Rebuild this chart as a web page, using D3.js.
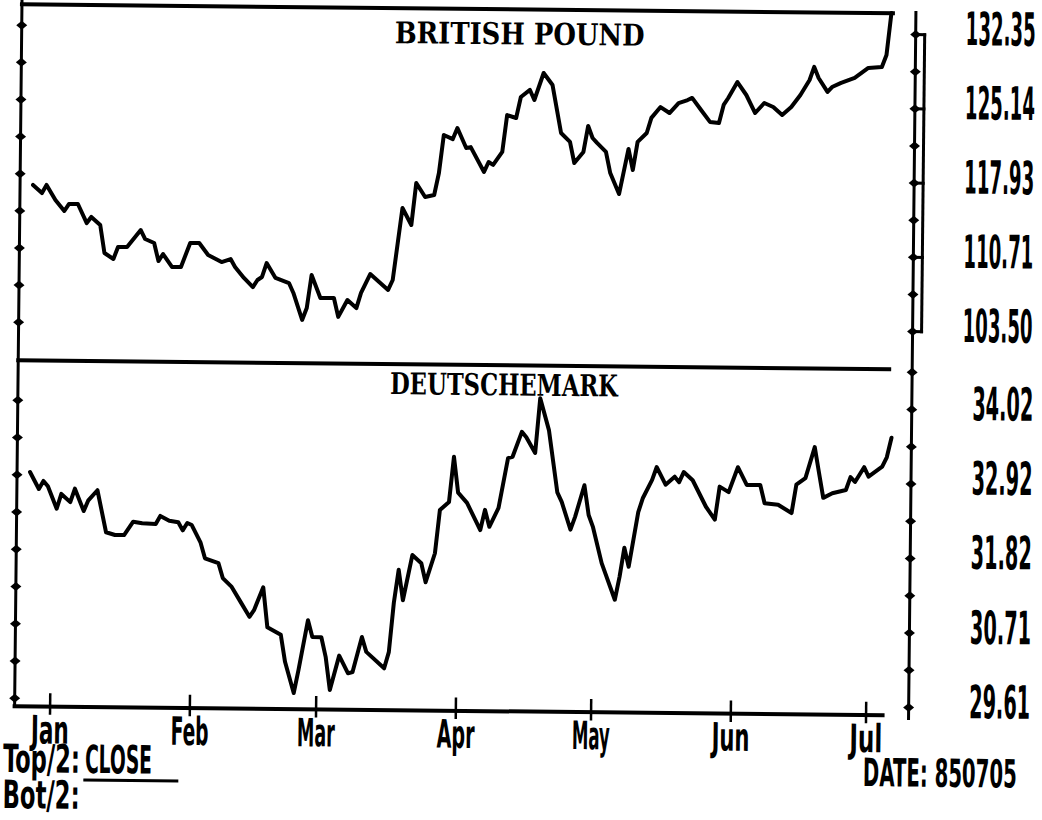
<!DOCTYPE html>
<html>
<head>
<meta charset="utf-8">
<script src="https://cdn.jsdelivr.net/npm/d3@7"></script>
<style>
  html, body { margin: 0; padding: 0; background: #fff; }
  svg { display: block; }
</style>
</head>
<body>
<svg id="chart" width="1042" height="820"></svg>
<script>
// ---------------- DATA ----------------
const poundTitle = "BRITISH POUND";
const dmTitle = "DEUTSCHEMARK";

const poundDates = [
  "1984-12-27","1984-12-29","1984-12-30","1985-01-01","1985-01-03","1985-01-04","1985-01-06","1985-01-08",
  "1985-01-09","1985-01-11","1985-01-12","1985-01-14","1985-01-15","1985-01-17","1985-01-20","1985-01-21",
  "1985-01-23","1985-01-24","1985-01-25","1985-01-27","1985-01-29","1985-01-31","1985-02-02","1985-02-04",
  "1985-02-07","1985-02-09","1985-02-10","1985-02-12","1985-02-14","1985-02-15","1985-02-16","1985-02-17",
  "1985-02-19","1985-02-22","1985-02-23","1985-02-25","1985-02-26","1985-02-27","1985-03-01","1985-03-04",
  "1985-03-05","1985-03-07","1985-03-09","1985-03-10","1985-03-12","1985-03-14","1985-03-16","1985-03-17",
  "1985-03-19","1985-03-21","1985-03-22","1985-03-24","1985-03-26","1985-03-27","1985-03-28","1985-03-30",
  "1985-03-31","1985-04-02","1985-04-03","1985-04-06","1985-04-07","1985-04-08","1985-04-10","1985-04-11",
  "1985-04-13","1985-04-14","1985-04-16","1985-04-17","1985-04-19","1985-04-21","1985-04-23","1985-04-25",
  "1985-04-26","1985-04-28","1985-04-29","1985-04-30","1985-05-01","1985-05-03","1985-05-04","1985-05-06",
  "1985-05-08","1985-05-09","1985-05-10","1985-05-12","1985-05-13","1985-05-15","1985-05-17","1985-05-19",
  "1985-05-21","1985-05-22","1985-05-24","1985-05-26","1985-05-28","1985-05-29","1985-05-30","1985-06-01",
  "1985-06-03","1985-06-05","1985-06-07","1985-06-09","1985-06-11","1985-06-13","1985-06-15","1985-06-17",
  "1985-06-18","1985-06-19","1985-06-21","1985-06-22","1985-06-24","1985-06-27","1985-06-30","1985-07-03",
  "1985-07-04","1985-07-05"
];
const poundValues = [
  116.85,116.07,116.86,115.41,114.35,115.03,115.04,113.20,
  113.80,113.02,110.31,109.74,110.91,110.92,112.58,111.71,
  111.33,109.58,110.27,109.02,109.03,111.37,111.38,110.22,
  109.55,109.85,109.09,108.03,107.15,107.84,108.14,109.50,
  108.06,107.58,106.62,104.01,105.17,108.39,106.16,106.17,
  104.34,105.99,105.22,106.69,108.54,107.77,107.01,107.98,
  114.98,113.34,117.43,116.08,116.28,118.42,122.12,121.73,
  122.81,120.88,120.97,118.57,119.54,119.26,120.53,124.12,
  123.84,125.89,126.58,125.61,128.24,127.08,122.43,121.57,
  119.53,120.61,123.14,121.98,121.50,120.64,118.59,116.56,
  120.95,118.91,121.64,122.52,123.99,125.05,124.48,125.46,
  125.76,125.97,124.81,123.66,123.56,125.32,126.00,127.56,
  126.31,124.57,125.55,125.17,124.40,125.19,126.37,127.83,
  129.11,128.04,126.69,127.17,127.58,128.08,129.06,129.17,
  130.34,134.43
];

const dmDates = [
  "1984-12-27","1984-12-29","1984-12-30","1984-12-31","1985-01-02","1985-01-03","1985-01-05","1985-01-06",
  "1985-01-08","1985-01-09","1985-01-11","1985-01-13","1985-01-15","1985-01-17","1985-01-19","1985-01-21",
  "1985-01-24","1985-01-25","1985-01-27","1985-01-29","1985-01-30","1985-01-31","1985-02-01","1985-02-03",
  "1985-02-04","1985-02-07","1985-02-08","1985-02-10","1985-02-12","1985-02-14","1985-02-15","1985-02-17",
  "1985-02-18","1985-02-21","1985-02-22","1985-02-24","1985-02-25","1985-02-27","1985-02-28","1985-03-02",
  "1985-03-03","1985-03-04","1985-03-06","1985-03-08","1985-03-09","1985-03-11","1985-03-12","1985-03-16",
  "1985-03-17","1985-03-18","1985-03-19","1985-03-20","1985-03-22","1985-03-24","1985-03-25","1985-03-27",
  "1985-03-28","1985-03-30","1985-03-31","1985-04-01","1985-04-03","1985-04-06","1985-04-07","1985-04-08",
  "1985-04-10","1985-04-12","1985-04-13","1985-04-15","1985-04-16","1985-04-18","1985-04-19","1985-04-21",
  "1985-04-23","1985-04-24","1985-04-26","1985-04-27","1985-04-29","1985-04-30","1985-05-01","1985-05-03",
  "1985-05-06","1985-05-07","1985-05-08","1985-05-09","1985-05-11","1985-05-12","1985-05-14","1985-05-15",
  "1985-05-17","1985-05-19","1985-05-20","1985-05-21","1985-05-23","1985-05-26","1985-05-28","1985-05-29",
  "1985-05-31","1985-06-02","1985-06-04","1985-06-07","1985-06-08","1985-06-11","1985-06-14","1985-06-15",
  "1985-06-17","1985-06-19","1985-06-20","1985-06-21","1985-06-23","1985-06-26","1985-06-27","1985-06-28",
  "1985-06-30","1985-07-01","1985-07-04","1985-07-05","1985-07-06"
];
const dmValues = [
  32.96,32.71,32.83,32.75,32.42,32.64,32.52,32.72,
  32.39,32.55,32.70,32.08,32.04,32.04,32.24,32.22,
  32.21,32.33,32.26,32.24,32.12,32.23,32.20,31.94,
  31.71,31.64,31.42,31.29,31.07,30.85,30.95,31.29,
  30.70,30.59,30.19,29.73,30.07,30.81,30.56,30.56,
  30.27,29.78,30.29,30.03,30.05,30.57,30.35,30.11,
  30.35,31.08,31.57,31.12,31.79,31.67,31.39,31.82,
  32.46,32.58,33.25,32.72,32.57,32.17,32.47,32.22,
  32.50,33.24,33.26,33.63,33.55,33.32,34.13,33.66,
  32.74,32.60,32.19,32.38,32.85,32.41,32.23,31.70,
  31.16,31.50,31.93,31.65,32.46,32.67,32.94,33.13,
  32.87,32.99,32.91,33.06,32.94,32.55,32.36,32.85,
  32.77,33.14,32.88,32.88,32.61,32.59,32.47,32.89,
  32.99,33.45,33.07,32.70,32.77,32.82,33.01,32.94,
  33.16,33.02,33.17,33.31,33.60
];

const monthTicks = ["1985-01-01","1985-02-01","1985-03-01","1985-04-01","1985-05-01","1985-06-01","1985-07-01"];
const monthLabels = ["Jan","Feb","Mar","Apr","May","Jun","Jul"];
const poundTickLabels = [132.35, 125.14, 117.93, 110.71, 103.50];
const dmTickLabels = [34.02, 32.92, 31.82, 30.71, 29.61];
const bottomLine1a = "Top/2:";
const bottomLine1b = "CLOSE";
const bottomLine2 = "Bot/2:";
const dateText = "DATE: 850705";

// ---------------- DRAWING ----------------
const parse = d3.utcParse("%Y-%m-%d");
const svg = d3.select("#chart");
svg.append("rect").attr("width", 1042).attr("height", 820).attr("fill", "#fff");

// the original sheet is scanned slightly rotated
const g = svg.append("g").attr("transform", "rotate(0.6)");

const x = d3.scaleUtc()
  .domain([parse(monthTicks[0]), parse(monthTicks[monthTicks.length - 1])])
  .range([57.5, 873.5]);
const yP = d3.scaleLinear().domain([103.50, 132.35]).range([322, 25]);
const yD = d3.scaleLinear().domain([29.61, 34.02]).range([698, 400]);

const LEFT = 22, RIGHT_AX = 916, BRACKET = 925, PLOT_R = 893;
const narrow = "'Liberation Sans Narrow','DejaVu Sans Condensed','Liberation Sans',sans-serif";
const serif = "'DejaVu Serif','Liberation Serif',serif";

function line(x1, y1, x2, y2, w) {
  g.append("line").attr("x1", x1).attr("y1", y1).attr("x2", x2).attr("y2", y2)
    .attr("stroke", "#000").attr("stroke-width", w).attr("stroke-linecap", "square");
}
// text squeezed horizontally to a target width (the original uses a tall condensed printer font)
function text(str, tx, ty, size, width, anchor, family) {
  const holder = g.append("g");
  const t = holder.append("text")
    .attr("font-family", family || narrow).attr("font-weight", "bold")
    .attr("font-size", size).attr("text-anchor", anchor || "start")
    .attr("fill", "#000").text(str);
  const natural = t.node().getComputedTextLength() || width;
  const s = width / natural;
  holder.attr("transform", `translate(${tx},${ty}) scale(${s},1)`);
}
const diamond = "M-5.5,0L0,-4.5L5.5,0L0,4.5Z";
function diamonds(cx, ys) {
  g.selectAll(null).data(ys).enter().append("path")
    .attr("d", diamond).attr("fill", "#000")
    .attr("transform", d => `translate(${cx},${d})`);
}

// frame
line(LEFT, -6, LEFT, 706, 3);            // left axis
line(LEFT, 4, PLOT_R, 4, 4);             // top border
line(LEFT, 360, PLOT_R, 360, 4);         // divider
line(LEFT, 706, 890, 706, 4);            // time axis
line(RIGHT_AX, 3, RIGHT_AX, 709, 3);     // right axis

// minor tick positions
const pStep = (132.35 - 103.50) / 8;
const dStep = (34.02 - 29.61) / 8;
const pMinor = d3.range(9).map(i => yP(103.50 + i * pStep));
const dMinorLeft = d3.range(9).map(i => yD(29.61 + i * dStep));
const dMinorRight = d3.range(10).map(i => yD(29.61 + i * dStep));

diamonds(LEFT, pMinor);
diamonds(LEFT, dMinorLeft);
diamonds(RIGHT_AX, pMinor);
diamonds(RIGHT_AX, dMinorRight);

// bracket on upper right axis
line(BRACKET, yP(132.35), BRACKET, yP(103.50), 3);
poundTickLabels.forEach(v => line(RIGHT_AX, yP(v), BRACKET, yP(v), 3));

// right labels
poundTickLabels.forEach(v => text(v.toFixed(2), 1001, yP(v) + 10, 46, 70, "middle"));
dmTickLabels.forEach(v => text(v.toFixed(2), 1007, yD(v) + 10, 46, 61, "middle"));

// month ticks and labels
monthTicks.forEach((m, i) => {
  const mx = x(parse(m));
  line(mx, 694, mx, 713, 2.5);
  text(monthLabels[i], mx, 743, 39, monthLabels[i] === "Jul" ? 33 : 38, "middle");
});

// titles
text(poundTitle, 520, 39, 30, 250, "middle", serif);
text(dmTitle, 508, 390, 30, 228, "middle", serif);

// series lines
const pData = poundDates.map((d, i) => ({ date: parse(d), value: poundValues[i] }));
const dData = dmDates.map((d, i) => ({ date: parse(d), value: dmValues[i] }));

g.append("path").datum(pData)
  .attr("fill", "none").attr("stroke", "#000").attr("stroke-width", 4)
  .attr("stroke-linejoin", "round").attr("stroke-linecap", "round")
  .attr("d", d3.line().x(d => x(d.date)).y(d => yP(d.value)));

g.append("path").datum(dData)
  .attr("fill", "none").attr("stroke", "#000").attr("stroke-width", 4)
  .attr("stroke-linejoin", "round").attr("stroke-linecap", "round")
  .attr("d", d3.line().x(d => x(d.date)).y(d => yD(d.value)));

// bottom texts
text(bottomLine1a, 11, 772, 39, 77);
text(bottomLine1b, 93, 772, 39, 67);
line(93, 779, 185, 779, 3);
text(bottomLine2, 11, 808, 39, 77);
text(dateText, 871, 777, 39, 154);
</script>
</body>
</html>
